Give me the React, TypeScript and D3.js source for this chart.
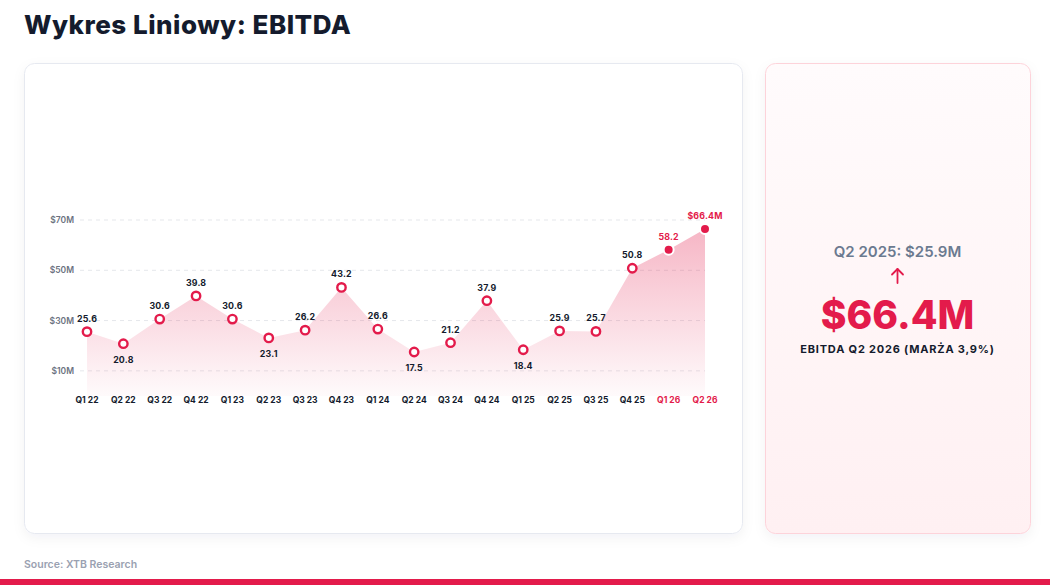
import React from 'react';
import * as d3 from 'd3';

const quarters = ['Q1 22', 'Q2 22', 'Q3 22', 'Q4 22', 'Q1 23', 'Q2 23', 'Q3 23', 'Q4 23', 'Q1 24', 'Q2 24', 'Q3 24', 'Q4 24', 'Q1 25', 'Q2 25', 'Q3 25', 'Q4 25', 'Q1 26', 'Q2 26'];
const ebitda = [25.6, 20.8, 30.6, 39.8, 30.6, 23.1, 26.2, 43.2, 26.6, 17.5, 21.2, 37.9, 18.4, 25.9, 25.7, 50.8, 58.2, 66.4];
const forecast = ['Q1 26', 'Q2 26'];
const yTicks = [10, 30, 50, 70];

const RED = '#e31b4b';
const DARK = '#141b2d';
const FONT = 'Inter, "Noto Sans", sans-serif';

const W = 1050;
const H = 585;

export default function App() {
  const x = d3.scalePoint<string>().domain(quarters).range([87, 705]);
  const y = d3.scaleLinear().domain([0, 70]).range([396, 220]);

  const pts = quarters.map((q, i) => ({ q, v: ebitda[i], i }));

  const area = d3
    .area<{ q: string; v: number }>()
    .x((d) => x(d.q)!)
    .y0(y(0))
    .y1((d) => y(d.v));

  // etykieta pod punktem dla lokalnych dołków
  const below = (i: number) => {
    const v = ebitda[i];
    const prev = ebitda[i - 1];
    const next = ebitda[i + 1];
    return prev !== undefined && next !== undefined && v < prev - 1 && v < next;
  };

  const last = pts[pts.length - 1];

  return (
    <svg width={W} height={H} style={{ position: 'absolute', left: 0, top: 0 }} fontFamily={FONT}>
      <defs>
        <linearGradient id="areaFill" x1="0" y1="0" x2="0" y2="1" gradientUnits="objectBoundingBox">
          <stop offset="0%" stopColor={RED} stopOpacity={0.32} />
          <stop offset="100%" stopColor={RED} stopOpacity={0.02} />
        </linearGradient>
        <linearGradient id="sideFill" x1="0" y1="0" x2="0" y2="1">
          <stop offset="0%" stopColor="#fffbfc" />
          <stop offset="100%" stopColor="#fff0f2" />
        </linearGradient>
        <filter id="shadow" x="-5%" y="-5%" width="110%" height="115%">
          <feDropShadow dx="0" dy="4" stdDeviation="6" floodColor="#1e293b" floodOpacity="0.05" />
        </filter>
      </defs>

      <rect width={W} height={H} fill="#fff" />

      <text x={24} y={34} fontSize={26} fontWeight={800} fill={DARK} letterSpacing={0.5}>
        Wykres Liniowy: EBITDA
      </text>

      {/* main card */}
      <rect x={24.5} y={63.5} width={718} height={470} rx={10} fill="#fff" stroke="#e6e9f0" filter="url(#shadow)" />

      {yTicks.map((t) => (
        <g key={t}>
          <line x1={80} x2={705} y1={y(t)} y2={y(t)} stroke="#e5e7eb" strokeDasharray="4 4" />
          <text x={74} y={y(t)} dy="0.35em" textAnchor="end" fontSize={8.5} fontWeight={600} fill="#6b7280">
            ${t}M
          </text>
        </g>
      ))}

      <path d={area(pts) ?? ''} fill="url(#areaFill)" />

      {pts.map((p) => {
        const fc = forecast.includes(p.q);
        const cx = x(p.q)!;
        const cy = y(p.v);
        const isLast = p.i === pts.length - 1;
        const b = below(p.i);
        return (
          <g key={p.q}>
            <circle cx={cx} cy={cy} r={fc ? 5 : 4.2} fill={fc ? RED : '#fff'} stroke={fc ? '#fff' : RED} strokeWidth={fc ? 2 : 2.4} />
            <text x={cx} y={b ? cy + 19 : cy - 10} textAnchor="middle" fontSize={8.8} fontWeight={700} fill={fc ? RED : DARK} letterSpacing={0.2}>
              {isLast ? `$${last.v}M` : p.v.toFixed(1)}
            </text>
            <text x={cx} y={403} textAnchor="middle" fontSize={8.5} fontWeight={700} fill={fc ? RED : DARK}>
              {p.q}
            </text>
          </g>
        );
      })}

      {/* side card */}
      <rect x={765.5} y={63.5} width={265} height={470} rx={10} fill="url(#sideFill)" stroke="#fdd3da" filter="url(#shadow)" />
      <text x={897.5} y={257} textAnchor="middle" fontSize={15} fontWeight={600} fill="#6b7a90">
        Q2 2025: $25.9M
      </text>
      <g stroke={RED} strokeWidth={1.8} fill="none" strokeLinecap="round" strokeLinejoin="round">
        <line x1={897.5} y1={283} x2={897.5} y2={269} />
        <polyline points="892,274.5 897.5,269 903,274.5" />
      </g>
      <text x={897.5} y={329} textAnchor="middle" fontSize={39} fontWeight={800} fill={RED}>
        ${last.v}M
      </text>
      <text x={897.5} y={353} textAnchor="middle" fontSize={11} fontWeight={700} fill={DARK} letterSpacing={0.8}>
        EBITDA Q2 2026 (MARŻA 3,9%)
      </text>

      <text x={24} y={568} fontSize={10.5} fontWeight={600} fill="#9aa1b1">
        Source: XTB Research
      </text>
      <rect x={0} y={579} width={W} height={6} fill={RED} />
    </svg>
  );
}
